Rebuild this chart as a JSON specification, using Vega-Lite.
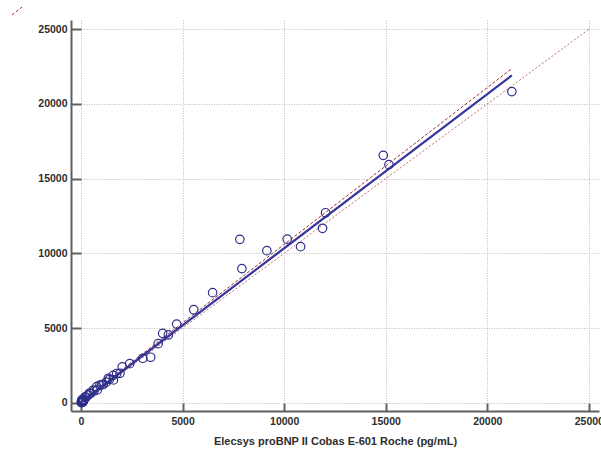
{
  "$schema": "https://vega.github.io/schema/vega-lite/v6.json",
  "width": 528,
  "height": 391,
  "autosize": {"type": "none"},
  "padding": {"left": 71, "top": 20, "right": 2, "bottom": 39},
  "background": "white",
  "config": {"view": {"stroke": null}, "font": "Liberation Sans"},
  "datasets": {
    "samples": [
      {"ref": 10, "test": 15}, {"ref": 25, "test": 60}, {"ref": 45, "test": 20},
      {"ref": 60, "test": 110}, {"ref": 80, "test": 50}, {"ref": 100, "test": 140},
      {"ref": 120, "test": 90}, {"ref": 35, "test": 170}, {"ref": 150, "test": 200},
      {"ref": 70, "test": 230},
      {"ref": 200, "test": 400}, {"ref": 250, "test": 370}, {"ref": 360, "test": 520},
      {"ref": 410, "test": 636}, {"ref": 480, "test": 640}, {"ref": 605, "test": 857},
      {"ref": 640, "test": 790}, {"ref": 775, "test": 1080}, {"ref": 800, "test": 860},
      {"ref": 935, "test": 1190}, {"ref": 1020, "test": 1195}, {"ref": 1100, "test": 1240},
      {"ref": 1250, "test": 1380}, {"ref": 1345, "test": 1640}, {"ref": 1400, "test": 1570},
      {"ref": 1600, "test": 1530}, {"ref": 1590, "test": 1840}, {"ref": 1760, "test": 1960},
      {"ref": 1920, "test": 1970}, {"ref": 2030, "test": 2400}, {"ref": 2400, "test": 2620},
      {"ref": 3040, "test": 2980}, {"ref": 3430, "test": 3050}, {"ref": 3800, "test": 3960},
      {"ref": 4020, "test": 4650}, {"ref": 4300, "test": 4540}, {"ref": 4710, "test": 5270},
      {"ref": 5550, "test": 6230}, {"ref": 6480, "test": 7370}, {"ref": 7820, "test": 10940},
      {"ref": 7920, "test": 8980}, {"ref": 9150, "test": 10180}, {"ref": 10150, "test": 10950},
      {"ref": 10810, "test": 10450}, {"ref": 11890, "test": 11680}, {"ref": 12040, "test": 12720},
      {"ref": 14880, "test": 16560}, {"ref": 15160, "test": 15940}, {"ref": 21210, "test": 20830}
    ],
    "fits": [
      {"line": "identity", "ref": 0, "test": 0},
      {"line": "identity", "ref": 25000, "test": 25000},
      {"line": "regression", "ref": 0, "test": 20},
      {"line": "regression", "ref": 21210, "test": 21910},
      {"line": "upper", "ref": 0, "test": 100},
      {"line": "upper", "ref": 21210, "test": 22370},
      {"line": "key", "ref": -3395, "test": 25956},
      {"line": "key", "ref": -2903, "test": 26491}
    ]
  },
  "layer": [
    {
      "data": {"name": "fits"},
      "transform": [{"filter": "datum.line === 'identity'"}],
      "mark": {"type": "line", "color": "#c46a6a", "strokeWidth": 1, "strokeDash": [2, 2]},
      "encoding": {
        "x": {
          "field": "ref", "type": "quantitative",
          "scale": {"domain": [-492, 25500], "nice": false, "zero": false},
          "axis": {
            "title": "Elecsys proBNP II Cobas E-601 Roche (pg/mL)",
            "values": [0, 5000, 10000, 15000, 20000, 25000],
            "format": "d",
            "grid": true, "gridColor": "#bdbdbd", "gridDash": [1, 1.5], "gridWidth": 1,
            "domainColor": "#606060", "domainWidth": 2,
            "tickColor": "#606060", "tickWidth": 2, "tickSize": -8,
            "labelFont": "Liberation Sans", "labelFontWeight": "bold", "labelFontSize": 10.5,
            "labelColor": "#2e2e2e", "labelPadding": 13, "labelFlush": false, "labelOverlap": false,
            "titleFont": "Liberation Sans", "titleFontWeight": "bold", "titleFontSize": 11,
            "titleColor": "#2e2e2e", "titlePadding": 9
          }
        },
        "y": {
          "field": "test", "type": "quantitative",
          "scale": {"domain": [-549, 25620], "nice": false, "zero": false},
          "axis": {
            "title": null,
            "values": [0, 5000, 10000, 15000, 20000, 25000],
            "format": "d",
            "grid": true, "gridColor": "#bdbdbd", "gridDash": [1, 1.5], "gridWidth": 1,
            "domainColor": "#606060", "domainWidth": 2,
            "tickColor": "#606060", "tickWidth": 2, "tickSize": -10,
            "labelFont": "Liberation Sans", "labelFontWeight": "bold", "labelFontSize": 10.5,
            "labelColor": "#2e2e2e", "labelPadding": 14, "labelFlush": false, "labelOverlap": false
          }
        }
      }
    },
    {
      "data": {"name": "fits"},
      "transform": [{"filter": "datum.line === 'upper' || datum.line === 'key'"}],
      "mark": {"type": "line", "color": "#9e2a2a", "strokeWidth": 1, "strokeDash": [3, 2]},
      "encoding": {
        "x": {"field": "ref", "type": "quantitative"},
        "y": {"field": "test", "type": "quantitative"},
        "detail": {"field": "line", "type": "nominal"}
      }
    },
    {
      "data": {"name": "fits"},
      "transform": [{"filter": "datum.line === 'regression'"}],
      "mark": {"type": "line", "color": "#36369c", "strokeWidth": 2.3},
      "encoding": {
        "x": {"field": "ref", "type": "quantitative"},
        "y": {"field": "test", "type": "quantitative"}
      }
    },
    {
      "data": {"name": "samples"},
      "mark": {"type": "point", "shape": "circle", "filled": false, "color": "#2e2e8a", "strokeWidth": 1.2, "size": 72, "opacity": 1},
      "encoding": {
        "x": {"field": "ref", "type": "quantitative"},
        "y": {"field": "test", "type": "quantitative"}
      }
    }
  ]
}
